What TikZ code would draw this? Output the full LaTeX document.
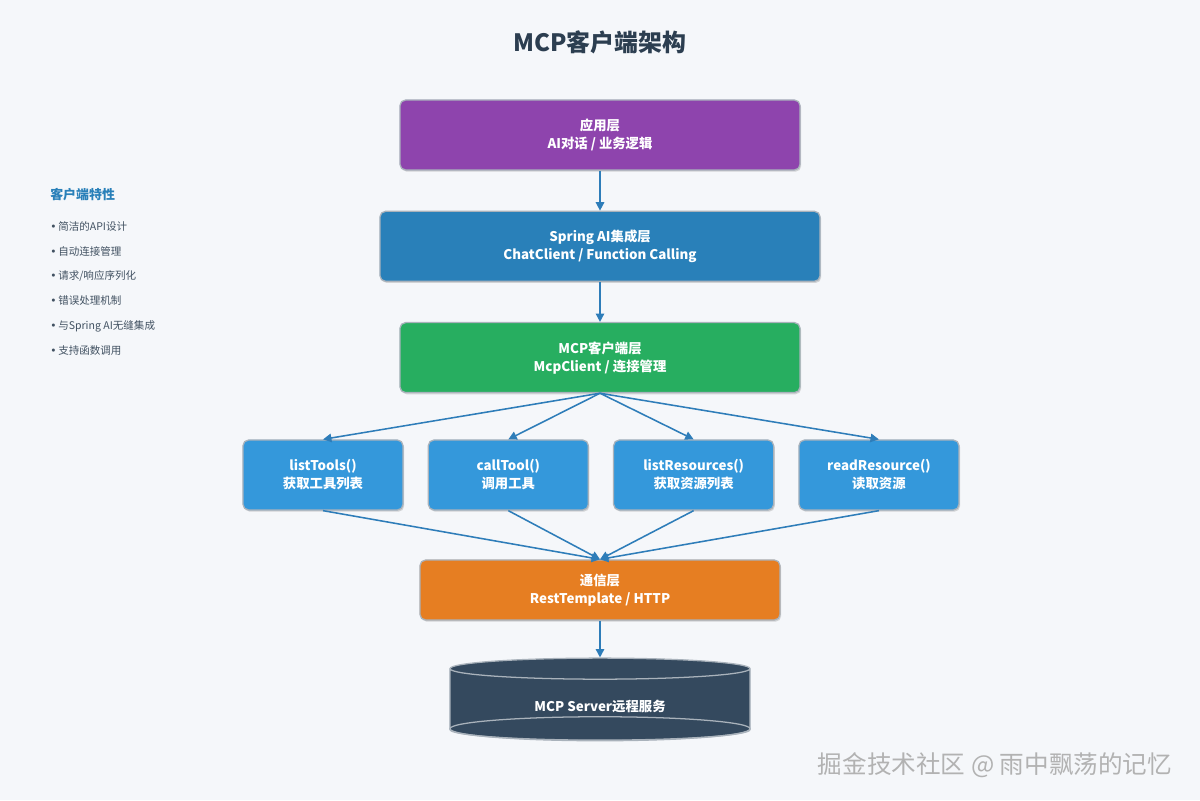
\documentclass[tikz,border=0pt]{standalone}
\usepackage{fontspec}
\setmainfont{Noto Sans CJK SC}
\newfontfamily\dotfont{DejaVu Sans}
\usepackage{xcolor}
\usetikzlibrary{arrows.meta, positioning, shapes.geometric, shadows, calc}
\definecolor{pagebg}{HTML}{F5F7FA}
\definecolor{ink}{HTML}{2C3E50}
\definecolor{apppurple}{HTML}{8E44AD}
\definecolor{springblue}{HTML}{2980B9}
\definecolor{clientgreen}{HTML}{27AE60}
\definecolor{methodblue}{HTML}{3498DB}
\definecolor{commorange}{HTML}{E67E22}
\definecolor{serverdark}{HTML}{34495E}
\definecolor{rim}{HTML}{A9B2BB}
\definecolor{flow}{HTML}{2E7DB9}
\newcommand{\featdot}{{\dotfont •}\,}

\begin{document}
\begin{tikzpicture}[x=0.025cm, y=-0.025cm,
  layer/.style={rectangle, draw=rim, line width=0.9pt, rounded corners=4pt, minimum height=1.75cm, text=white, font=\bfseries\fontsize{9.5}{12.8}\selectfont, align=center, drop shadow={shadow xshift=0.8pt, shadow yshift=-1.2pt, opacity=0.3}},
  method/.style={layer, fill=methodblue, minimum width=4cm},
  link/.style={-{Triangle[length=6pt, width=6pt]}, draw=flow, line width=1.1pt},
  feat/.style={font=\fontsize{7.5}{9}\selectfont, text=ink!90, anchor=west, inner sep=0pt}
]
  \fill[pagebg] (0,0) rectangle (1200,800);
  \node[font=\bfseries\fontsize{17}{20}\selectfont, text=ink] (title) at (600,42) {MCP客户端架构};

  % side panel
  \node[feat, font=\bfseries\fontsize{9.2}{11}\selectfont, text=springblue] (feathead) at (50,195) {客户端特性};
  \node[feat] (feat1) at (50,226) {\featdot 简洁的API设计};
  \node[feat] (feat2) at (50,251) {\featdot 自动连接管理};
  \node[feat] (feat3) at (50,276) {\featdot 请求/响应序列化};
  \node[feat] (feat4) at (50,301) {\featdot 错误处理机制};
  \node[feat] (feat5) at (50,326) {\featdot 与Spring AI无缝集成};
  \node[feat] (feat6) at (50,351) {\featdot 支持函数调用};

  % layers
  \node[layer, fill=apppurple, minimum width=10cm] (app) at (600,135) {应用层\\AI对话 / 业务逻辑};
  \node[layer, fill=springblue, minimum width=11cm, below=1cm of app] (spring) {Spring AI集成层\\ChatClient / Function Calling};
  \node[layer, fill=clientgreen, minimum width=10cm, below=1cm of spring] (client) {MCP客户端层\\McpClient / 连接管理};

  \node[method] (listtools) at (323,475) {listTools()\\获取工具列表};
  \node[method, right=0.6cm of listtools] (calltool) {callTool()\\调用工具};
  \node[method, right=0.6cm of calltool] (listres) {listResources()\\获取资源列表};
  \node[method, right=0.6cm of listres] (readres) {readResource()\\读取资源};

  \node[layer, fill=commorange, minimum width=9cm, minimum height=1.5cm] (comm) at (600,590) {通信层\\RestTemplate / HTTP};

  \node[cylinder, shape border rotate=90, aspect=0.15, minimum width=7.5cm, minimum height=2.05cm, fill=serverdark, draw=rim, line width=0.9pt, text=white, font=\bfseries\fontsize{9.5}{12.8}\selectfont] (server) at (600,706) {MCP Server远程服务};
  \draw[rim, line width=0.9pt] ($(server.bottom)+(0,-12)$) ellipse [x radius=3.75cm, y radius=0.3cm];

  % connectors
  \draw[link] (app) -- (spring);
  \draw[link] (spring) -- (client);
  \draw[link] (client.south) -- (listtools.north);
  \draw[link] (client.south) -- (calltool.north);
  \draw[link] (client.south) -- (listres.north);
  \draw[link] (client.south) -- (readres.north);
  \draw[link] (listtools.south) -- (comm.north);
  \draw[link] (calltool.south) -- (comm.north);
  \draw[link] (listres.south) -- (comm.north);
  \draw[link] (readres.south) -- (comm.north);
  \draw[link] (comm) -- (server.north);

  \node[font=\fontsize{17.5}{20}\selectfont, text=gray!60] (mark) at (995,765) {掘金技术社区 @ 雨中飘荡的记忆};
\end{tikzpicture}
\end{document}
